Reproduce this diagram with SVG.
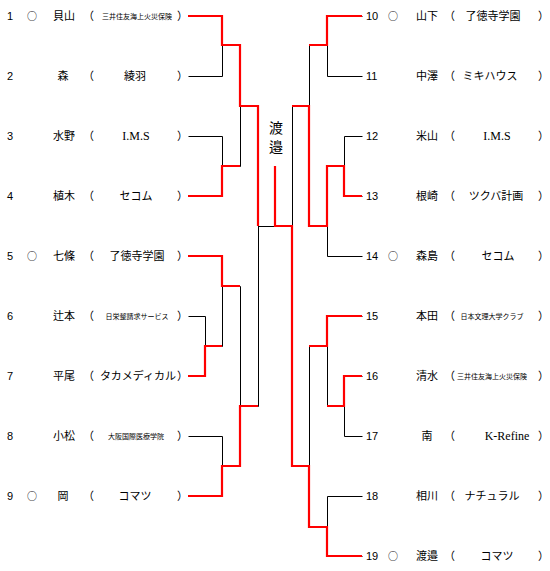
<svg xmlns="http://www.w3.org/2000/svg" width="550" height="571" viewBox="0 0 550 571">
<style>
text{font-family:"Noto Sans CJK JP","Noto Sans CJK SC",sans-serif;font-size:11px;fill:#000;text-anchor:middle}
.n{font-family:"Liberation Sans",Arial,sans-serif}
.ns{font-family:"Liberation Sans",Arial,sans-serif;text-anchor:start}
.e{font-family:"Liberation Serif","Times New Roman",serif;font-size:12px}
.s{font-size:7px}
.c{font-size:10px}
.v{font-size:14px}
.b{stroke:#000;stroke-width:1;fill:none}
.r{stroke:#f00;stroke-width:2.2;fill:none}
</style>
<g id="connectors">
<g class="b" transform="translate(0.5,0.5)">
<path d="M188 16H222M188 76H222M188 136H222M188 196H222M188 256H222M188 436H222M188 496H222M188 316H205M188 376H205"/>
<path d="M222 16V76M222 136V196M222 256V346M222 436V496M205 316V376M205 346H222"/>
<path d="M222 45H240M222 166H240M222 286H240M222 466H240M240 45V166M240 286V466M240 106H258M240 406H258M258 106V406M258 226H292M275 166V226"/>
<path d="M327 16H362M327 76H362M327 256H362M327 316H362M327 496H362M327 556H362M344 136H362M344 196H362M344 376H362M344 436H362"/>
<path d="M344 136V196M344 376V436M327 166H344M327 406H344M327 16V76M327 166V256M327 316V406M327 496V556"/>
<path d="M309 45H327M309 226H327M309 346H327M309 527H327M309 45V226M309 346V527M292 106H309M292 466H309M292 106V466"/>
</g>
<g class="r">
<path d="M188 16H222V45H240V106H258V226"/>
<path d="M188 196H222V166H240"/>
<path d="M188 256H222V286H240"/>
<path d="M188 376H205V346H222"/>
<path d="M188 496H222V466H240V406H258"/>
<path d="M275 166V226H292V466H309V527H327V556H362"/>
<path d="M362 16H327V45H309"/>
<path d="M362 196H344V166H327V226H309V106H292"/>
<path d="M362 316H327V346H309"/>
<path d="M362 376H344V406H327"/>
</g>
</g>
<g id="champion"><text class="v" x="276" y="133">渡</text><text class="v" x="276" y="152">邉</text></g>
<g id="p1"><text class="n" x="10" y="20">1</text><text class="c" x="32" y="20">○</text><text x="64" y="20">貝山</text><text x="88.5" y="20">（</text><text class="s" x="137" y="19">三井住友海上火災保険</text><text x="182.5" y="20">）</text></g>
<g id="p2"><text class="n" x="10" y="80">2</text><text x="63" y="80">森</text><text x="88.5" y="80">（</text><text x="135" y="80">綾羽</text><text x="182.5" y="80">）</text></g>
<g id="p3"><text class="n" x="10" y="140">3</text><text x="64" y="140">水野</text><text x="88.5" y="140">（</text><text class="e" x="136" y="140">I.M.S</text><text x="182.5" y="140">）</text></g>
<g id="p4"><text class="n" x="10" y="200">4</text><text x="64" y="200">植木</text><text x="88.5" y="200">（</text><text x="136" y="200">セコム</text><text x="182.5" y="200">）</text></g>
<g id="p5"><text class="n" x="10" y="260">5</text><text class="c" x="32" y="260">○</text><text x="64" y="260">七條</text><text x="88.5" y="260">（</text><text x="137" y="260">了徳寺学園</text><text x="182.5" y="260">）</text></g>
<g id="p6"><text class="n" x="10" y="320">6</text><text x="64" y="320">辻本</text><text x="88.5" y="320">（</text><text class="s" x="137" y="319">日栄整請求サービス</text><text x="182.5" y="320">）</text></g>
<g id="p7"><text class="n" x="10" y="380">7</text><text x="64" y="380">平尾</text><text x="88.5" y="380">（</text><text x="138" y="380">タカメディカル</text><text x="182.5" y="380">）</text></g>
<g id="p8"><text class="n" x="10" y="440">8</text><text x="64" y="440">小松</text><text x="88.5" y="440">（</text><text class="s" x="136" y="439">大阪国際医療学院</text><text x="182.5" y="440">）</text></g>
<g id="p9"><text class="n" x="10" y="500">9</text><text class="c" x="32" y="500">○</text><text x="63" y="500">岡</text><text x="88.5" y="500">（</text><text x="135" y="500">コマツ</text><text x="182.5" y="500">）</text></g>
<g id="p10"><text class="ns" x="366" y="20">10</text><text class="c" x="393" y="20">○</text><text x="427" y="20">山下</text><text x="449.5" y="20">（</text><text x="493" y="20">了徳寺学園</text><text x="543.5" y="20">）</text></g>
<g id="p11"><text class="ns" x="366" y="80">11</text><text x="427" y="80">中澤</text><text x="449.5" y="80">（</text><text x="490" y="80">ミキハウス</text><text x="543.5" y="80">）</text></g>
<g id="p12"><text class="ns" x="366" y="140">12</text><text x="427" y="140">米山</text><text x="449.5" y="140">（</text><text class="e" x="497" y="140">I.M.S</text><text x="543.5" y="140">）</text></g>
<g id="p13"><text class="ns" x="366" y="200">13</text><text x="427" y="200">根崎</text><text x="449.5" y="200">（</text><text x="496" y="200">ツクバ計画</text><text x="543.5" y="200">）</text></g>
<g id="p14"><text class="ns" x="366" y="260">14</text><text class="c" x="393" y="260">○</text><text x="427" y="260">森島</text><text x="449.5" y="260">（</text><text x="498" y="260">セコム</text><text x="543.5" y="260">）</text></g>
<g id="p15"><text class="ns" x="366" y="320">15</text><text x="427" y="320">本田</text><text x="449.5" y="320">（</text><text class="s" x="492" y="319">日本文理大学クラブ</text><text x="543.5" y="320">）</text></g>
<g id="p16"><text class="ns" x="366" y="380">16</text><text x="427" y="380">清水</text><text x="449.5" y="380">（</text><text class="s" x="492" y="379">三井住友海上火災保険</text><text x="543.5" y="380">）</text></g>
<g id="p17"><text class="ns" x="366" y="440">17</text><text x="427" y="440">南</text><text x="449.5" y="440">（</text><text class="e" x="507" y="440">K-Refine</text><text x="543.5" y="440">）</text></g>
<g id="p18"><text class="ns" x="366" y="500">18</text><text x="427" y="500">相川</text><text x="449.5" y="500">（</text><text x="492" y="500">ナチュラル</text><text x="543.5" y="500">）</text></g>
<g id="p19"><text class="ns" x="366" y="560">19</text><text class="c" x="393" y="560">○</text><text x="427" y="560">渡邉</text><text x="449.5" y="560">（</text><text x="497" y="560">コマツ</text><text x="543.5" y="560">）</text></g>
</svg>
